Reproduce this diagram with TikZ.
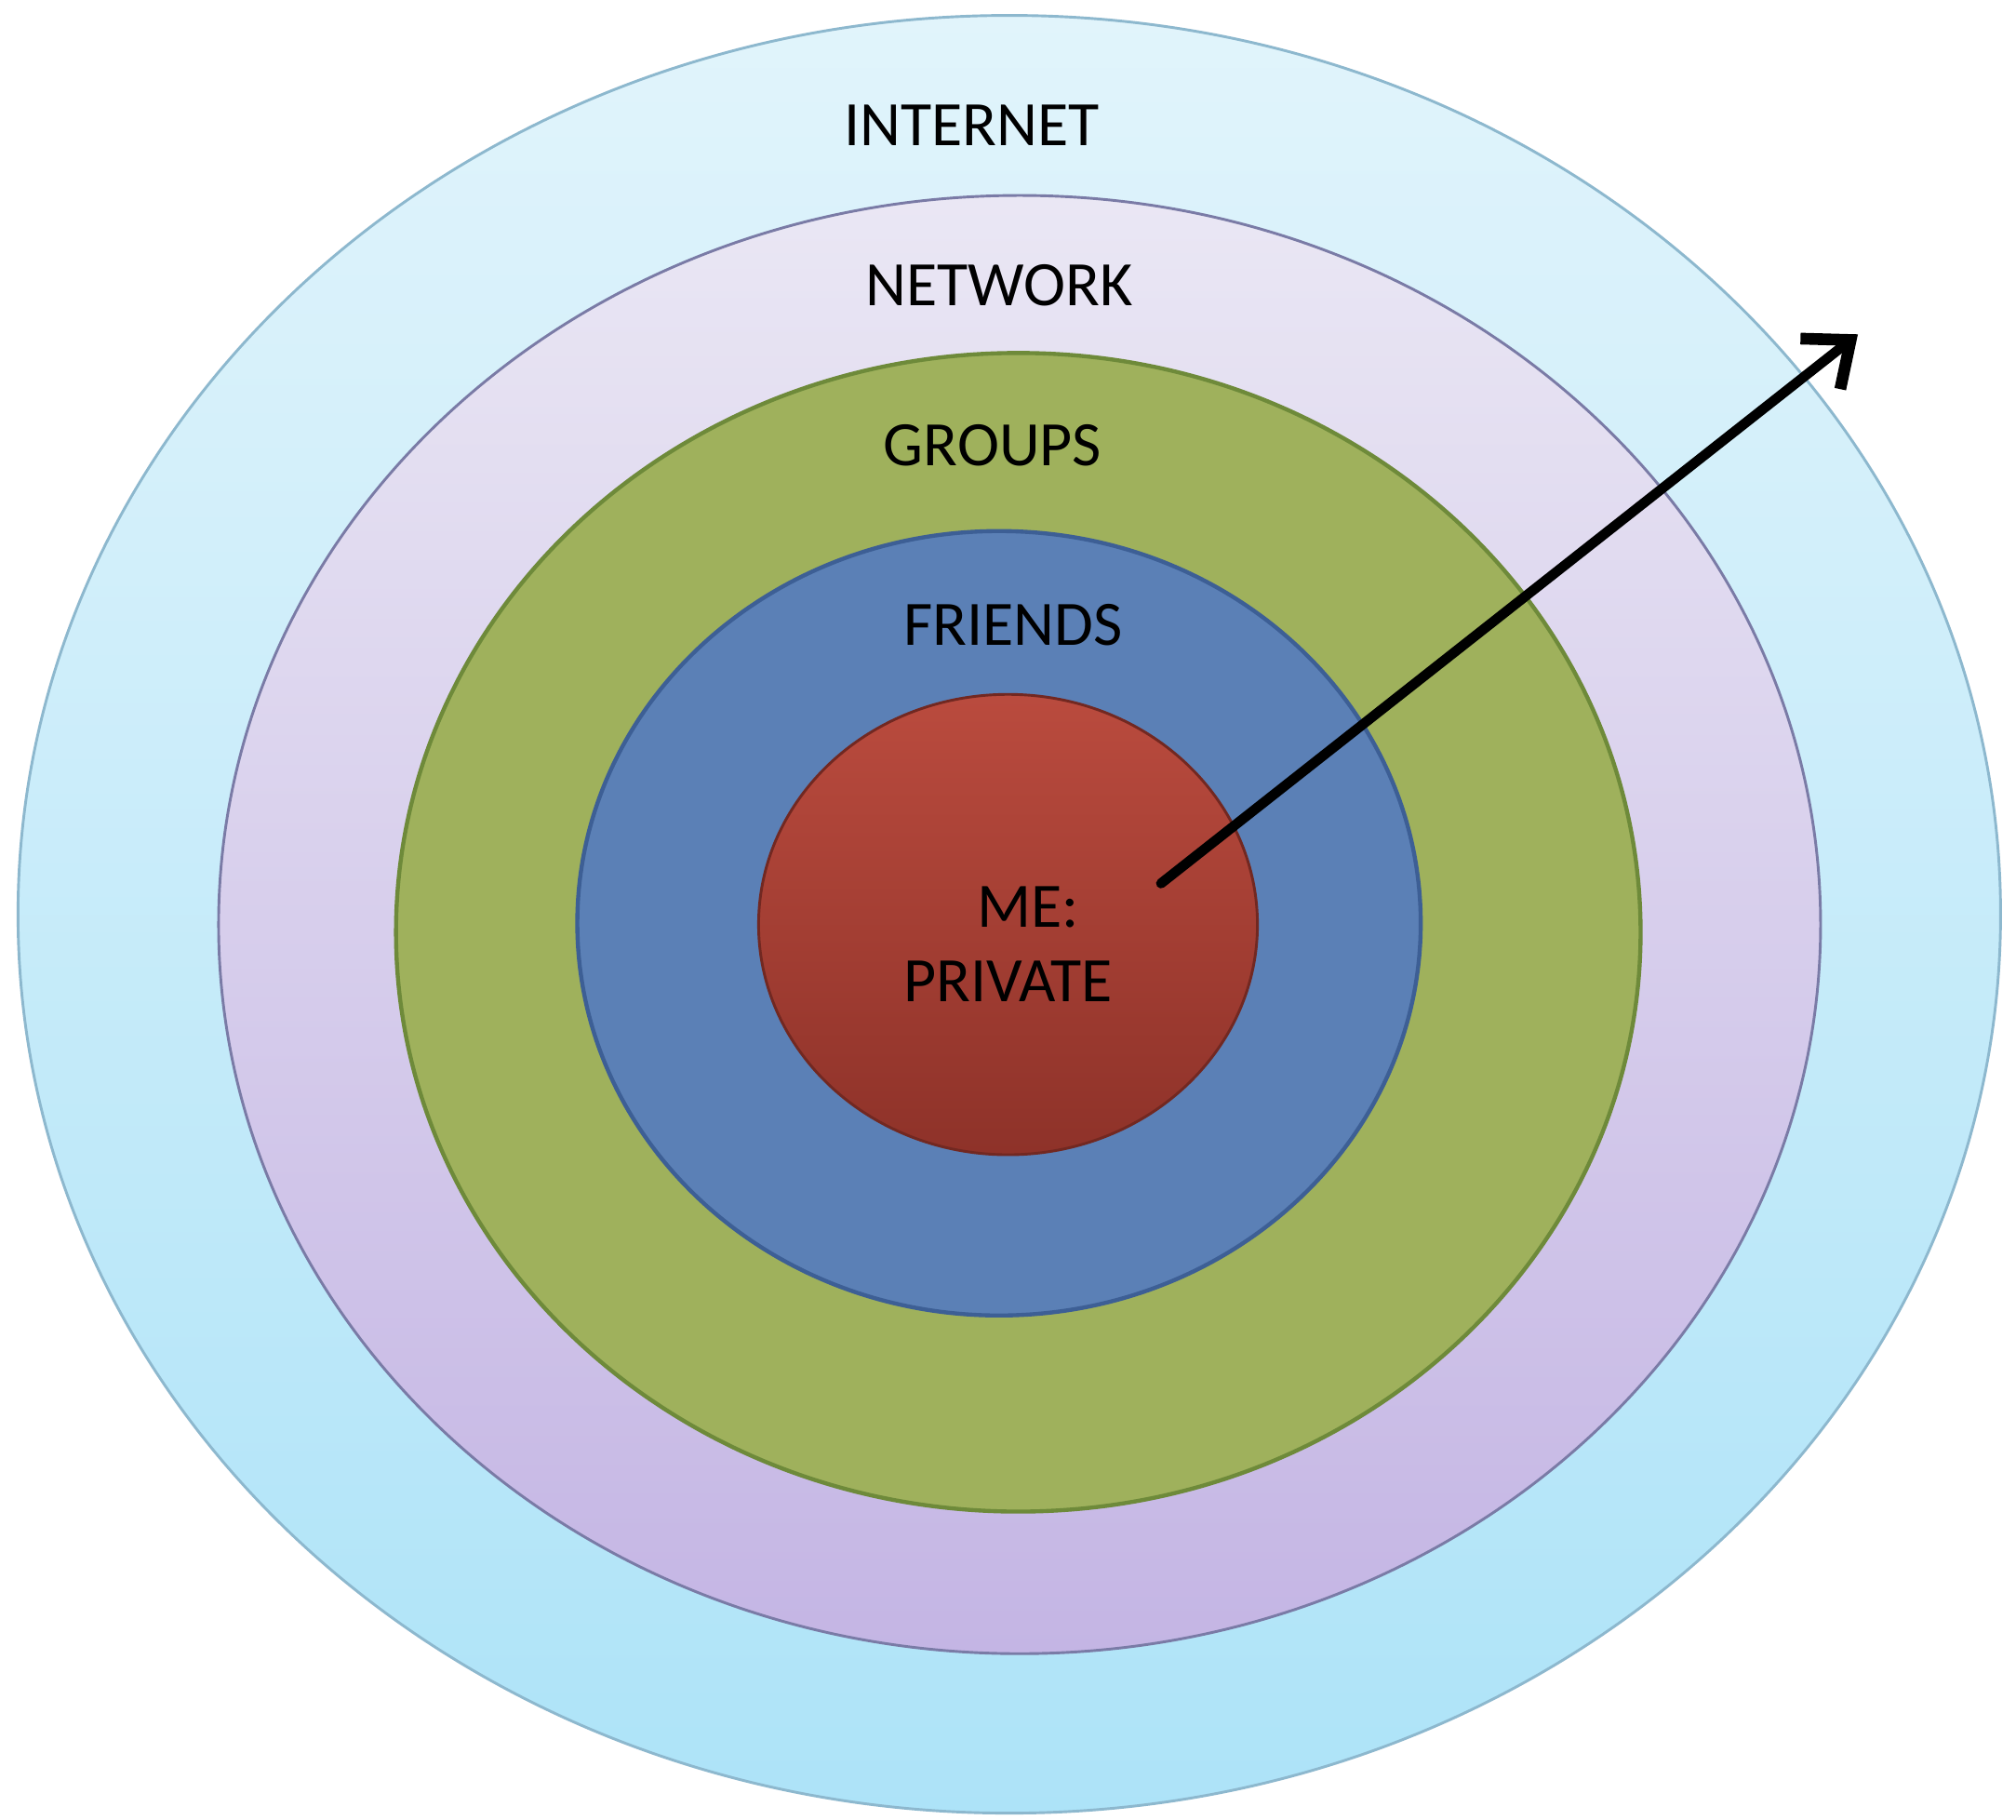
\documentclass[tikz,border=0pt]{standalone}
\usepackage{fontspec}
\setmainfont{Carlito}
\usepackage{xcolor}
\usepackage{tikz}
\usetikzlibrary{shapes,arrows.meta,positioning}

\definecolor{inetTop}{HTML}{E1F4FB}
\definecolor{inetBot}{HTML}{ADE3F8}
\definecolor{inetLine}{HTML}{8DB8CE}
\definecolor{netTop}{HTML}{EAE7F4}
\definecolor{netBot}{HTML}{C4B5E4}
\definecolor{netLine}{HTML}{7A7BA6}
\definecolor{grpFill}{HTML}{9FB15C}
\definecolor{grpLine}{HTML}{6E8A3A}
\definecolor{frdFill}{HTML}{5B80B6}
\definecolor{frdLine}{HTML}{3D5F95}
\definecolor{meTop}{HTML}{BA4B3E}
\definecolor{meBot}{HTML}{8E3229}

\begin{document}
\begin{tikzpicture}[node distance=0.6cm, auto,
    ring/.style={ellipse, inner sep=0pt, line width=0.6pt},
    ringlabel/.style={font=\fontsize{14}{16.5}\selectfont, inner sep=0pt}]
    \useasboundingbox[fill=white] (0,0) rectangle (15.68,14.15);

    \node (internet) [ring, draw=inetLine, top color=inetTop, bottom color=inetBot, minimum width=15.42cm, minimum height=13.98cm] at (7.85,7.04) {};
    \node (network) [ring, draw=netLine, top color=netTop, bottom color=netBot, minimum width=12.46cm, minimum height=11.34cm] at (7.93,6.96) {};
    \node (groups) [ring, draw=grpLine, fill=grpFill, line width=0.9pt, minimum width=9.68cm, minimum height=9.01cm] at (7.92,6.90) {};
    \node (friends) [ring, draw=frdLine, fill=frdFill, line width=0.9pt, minimum width=6.56cm, minimum height=6.10cm] at (7.77,6.97) {};
    \node (me) [ring, draw=meBot!80!black, top color=meTop, bottom color=meBot, minimum width=3.88cm, minimum height=3.58cm] at (7.84,6.96) {};

    \node (internetlabel) [ringlabel, below=0.70cm of internet.north, xshift=-0.29cm] {INTERNET};
    \node (networklabel) [ringlabel, below=0.54cm of network.north, xshift=-0.16cm] {NETWORK};
    \node (groupslabel) [ringlabel, below=0.565cm of groups.north, xshift=-0.20cm] {GROUPS};
    \node (friendslabel) [ringlabel, below=0.58cm of friends.north, xshift=0.11cm] {FRIENDS};
    \node (melabel) [ringlabel, align=center] at (7.84,6.81) {\hspace*{9pt}ME:\\PRIVATE};

    \coordinate (arrowstart) at (9.03,7.28);
    \coordinate (arrowend) at (14.45,11.55);
    \draw[-{Straight Barb[length=3mm, width=5mm, line width=2.6pt]}, line width=2.2pt, line cap=round] (arrowstart) -- (arrowend);
\end{tikzpicture}
\end{document}
